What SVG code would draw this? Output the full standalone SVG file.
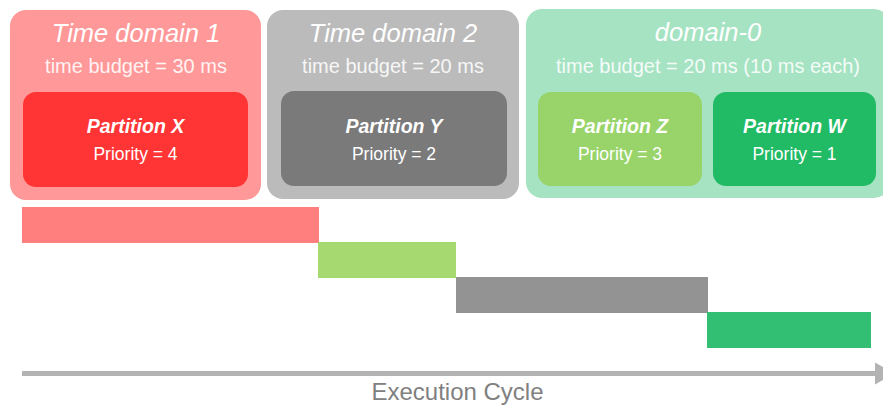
<svg xmlns="http://www.w3.org/2000/svg" width="883" height="407" viewBox="0 0 883 407">
  <defs>
    <style>
      text { font-family: "Liberation Sans", Arial, sans-serif; fill: #ffffff; text-anchor: middle; }
      .title { font-size: 25.5px; font-style: italic; }
      .budget { font-size: 20px; fill-opacity: 0.9; }
      .pname { font-size: 19.5px; font-style: italic; font-weight: bold; }
      .prio { font-size: 17.5px; }
      .axis-label { font-size: 24px; fill: #808080; }
    </style>
  </defs>

  <rect width="883" height="407" fill="#ffffff"/>

  <!-- Time domain 1 -->
  <g id="domain1">
    <rect x="10" y="10" width="251" height="190" rx="16" fill="#ff9999"/>
    <text class="title" x="136" y="42">Time domain 1</text>
    <text class="budget" x="136" y="73">time budget = 30 ms</text>
  </g>
  <g id="partitionX">
    <rect x="23" y="92" width="225" height="95" rx="13" fill="#ff3535"/>
    <text class="pname" x="135.5" y="133">Partition X</text>
    <text class="prio" x="135.5" y="160">Priority = 4</text>
  </g>

  <!-- Time domain 2 -->
  <g id="domain2">
    <rect x="267" y="10" width="252" height="189" rx="16" fill="#bbbbbb"/>
    <text class="title" x="393" y="42">Time domain 2</text>
    <text class="budget" x="393" y="73">time budget = 20 ms</text>
  </g>
  <g id="partitionY">
    <rect x="281" y="91" width="226" height="95" rx="13" fill="#7a7a7a"/>
    <text class="pname" x="394" y="133">Partition Y</text>
    <text class="prio" x="394" y="160">Priority = 2</text>
  </g>

  <!-- domain-0 -->
  <g id="domain0">
    <rect x="526" y="9" width="364" height="189" rx="16" fill="#a6e3c3"/>
    <text class="title" x="708" y="41">domain-0</text>
    <text class="budget" x="708" y="73">time budget = 20 ms (10 ms each)</text>
  </g>
  <g id="partitionZ">
    <rect x="538" y="92" width="164" height="94" rx="13" fill="#98d46a"/>
    <text class="pname" x="620" y="133">Partition Z</text>
    <text class="prio" x="620" y="160">Priority = 3</text>
  </g>
  <g id="partitionW">
    <rect x="713" y="92" width="163" height="94" rx="13" fill="#21ba65"/>
    <text class="pname" x="794.5" y="133">Partition W</text>
    <text class="prio" x="794.5" y="160">Priority = 1</text>
  </g>

  <!-- execution slots along the cycle -->
  <g id="slots">
    <rect x="22" y="207" width="297" height="36" fill="#ff7f7f"/>
    <rect x="318" y="242" width="138" height="36" fill="#a6d96f"/>
    <rect x="456" y="277" width="252" height="36" fill="#939393"/>
    <rect x="707" y="312" width="164" height="36" fill="#33bf73"/>
  </g>

  <!-- time axis: shaft plus head running off the right edge -->
  <g id="connectors">
    <line x1="22" y1="373.5" x2="878" y2="373.5" stroke="#b3b3b3" stroke-width="5"/>
    <path d="M875,362.5 L895,373.5 L875,384.5 Z" fill="#b3b3b3"/>
  </g>
  <g id="axis">
    <text class="axis-label" x="457.5" y="400">Execution Cycle</text>
  </g>
</svg>
